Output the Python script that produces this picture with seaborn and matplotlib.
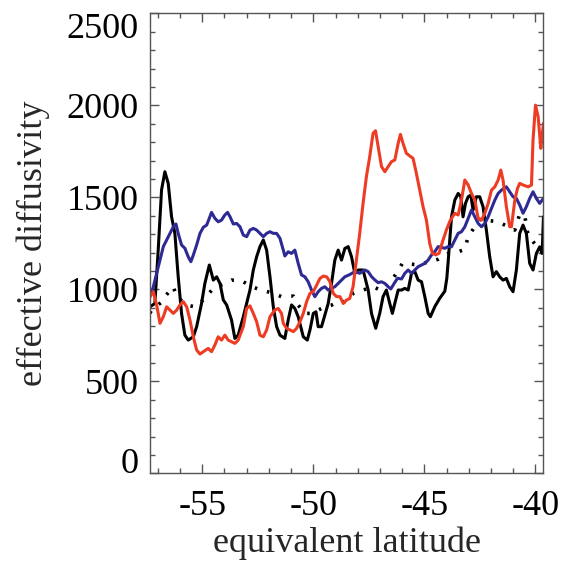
"""Effective diffusivity against equivalent latitude, four profiles."""

import matplotlib
matplotlib.use("Agg")
import matplotlib.pyplot as plt
import seaborn as sns
from matplotlib.ticker import MultipleLocator

# solid black profile
black_lat = [-57.35, -57.13, -56.98, -56.83, -56.68, -56.53, -56.38, -56.23, -56.08, -55.93,
             -55.78, -55.63, -55.40, -55.25, -55.03, -54.88, -54.68, -54.50, -54.35, -54.20,
             -54.05, -53.90, -53.68, -53.53, -53.38, -53.15, -52.85,
             -52.70, -52.55, -52.40, -52.25, -52.10, -51.95, -51.80, -51.65, -51.50, -51.28,
             -51.13, -50.98, -50.83, -50.68, -50.45, -50.27, -50.15, -50.00, -49.88, -49.78,
             -49.63, -49.48, -49.33, -49.18, -49.03, -48.88, -48.73, -48.58, -48.43,
             -48.28, -48.13, -47.98, -47.76, -47.53, -47.38, -47.19, -47.01, -46.86, -46.71,
             -46.56, -46.44, -46.33, -46.18, -46.03, -45.88, -45.73, -45.58, -45.43, -45.28,
             -45.13, -44.98, -44.83, -44.73, -44.53, -44.31, -44.08, -43.99, -43.93,
             -43.78, -43.63, -43.48, -43.36, -43.26, -43.15, -43.03, -42.91, -42.81, -42.66,
             -42.51, -42.36, -42.21, -42.06, -41.91, -41.76, -41.61, -41.46, -41.31, -41.16,
             -41.01, -40.86, -40.71, -40.56, -40.41, -40.26, -40.11, -39.96, -39.81, -39.70,
             -39.64]
black_val = [905, 923, 1214, 1540, 1639, 1576, 1395, 1304, 1068, 869,
             751, 724, 742, 797, 923, 1032, 1132, 1050, 1068, 1032,
             942, 915, 833, 733, 751, 851, 996,
             1105, 1177, 1232, 1268, 1213, 1068, 905, 797, 751, 733,
             833, 915, 896, 851, 742, 724, 779, 869, 878, 797,
             797, 860, 923, 1032, 1159, 1213, 1159, 1222, 1232,
             1177, 1087, 1105, 1105, 996, 869, 788, 869, 960, 996,
             924, 869, 924, 996, 996, 1005, 996, 1087, 1096, 1050,
             1041, 960, 869, 851, 906, 951, 990, 1060, 1150,
             1394, 1485, 1521, 1503, 1394, 1467, 1503, 1512, 1431, 1503,
             1503, 1449, 1322, 1177, 1068, 1096, 1068, 1050, 1059, 1014,
             987, 1105, 1304, 1349, 1304, 1141, 1105, 1195, 1231, 1195,
             1394]

# red profile
red_lat = [-57.35, -57.20, -57.05, -56.90, -56.75, -56.60, -56.45, -56.30, -56.15, -56.00,
           -55.85, -55.70, -55.55, -55.40, -55.25, -55.10, -54.95, -54.73, -54.58, -54.43,
           -54.28, -54.13, -53.98, -53.83, -53.68, -53.53, -53.38, -53.15, -53.00, -52.85,
           -52.70, -52.55, -52.40, -52.25, -52.10, -51.95, -51.73, -51.58, -51.43, -51.35,
           -51.20, -51.05, -50.90, -50.75, -50.60, -50.45, -50.30, -50.15, -50.00, -49.85,
           -49.70, -49.55, -49.40, -49.25, -49.10, -48.95, -48.80, -48.65, -48.50,
           -48.36, -48.21, -48.06, -47.91, -47.76, -47.61, -47.46, -47.31, -47.20, -47.08,
           -46.93, -46.78, -46.63, -46.48, -46.33, -46.18, -46.08, -45.96, -45.81, -45.66,
           -45.51, -45.36, -45.21, -45.06, -44.91, -44.76, -44.64, -44.49, -44.34, -44.16,
           -44.01, -43.86,
           -43.78, -43.63, -43.48, -43.33, -43.18, -43.03, -42.88, -42.73, -42.58, -42.43,
           -42.28, -42.13, -41.98, -41.83, -41.68, -41.56, -41.46, -41.31, -41.16, -41.08,
           -40.93, -40.81, -40.71, -40.56, -40.33, -40.18, -40.11, -40.00, -39.88, -39.76,
           -39.69, -39.64]
red_val = [960, 987, 915, 815, 851, 905, 887, 869, 887, 915,
           933, 905, 833, 742, 670, 648, 661, 679, 661, 697,
           742, 724, 751, 724, 715, 706, 724, 797, 896, 910,
           869, 824, 751, 742, 779, 851, 887, 896, 869, 815,
           788, 779, 770, 788, 824, 869, 933, 978, 987, 1023,
           1059, 1072, 1068, 1041, 978, 960, 960, 923, 942,
           950, 1014, 1159, 1304, 1467, 1612, 1721, 1848, 1862, 1775,
           1667, 1639, 1667, 1694, 1703, 1793, 1842, 1793, 1739, 1725,
           1712, 1630, 1540, 1449, 1377, 1250, 1196, 1187, 1196, 1268,
           1322, 1368,
           1385, 1413, 1404, 1485, 1594, 1567, 1521, 1485, 1385, 1376,
           1413, 1467, 1539, 1557, 1594, 1648, 1594, 1449, 1340, 1340,
           1485, 1548, 1576, 1567, 1557, 1567, 1811, 2001, 1938, 1766,
           1847, 1902]

# blue profile
blue_lat = [-57.35, -57.20, -57.05, -56.90, -56.75, -56.60, -56.45, -56.30, -56.18, -56.08,
            -55.93, -55.78, -55.63, -55.51, -55.40, -55.25, -55.10, -54.95, -54.80, -54.68,
            -54.58, -54.43, -54.28, -54.13, -53.98, -53.86, -53.75, -53.60, -53.45, -53.30,
            -53.15, -53.00, -52.85,
            -52.70, -52.55, -52.40, -52.25, -52.10, -51.95, -51.80, -51.65, -51.50, -51.35,
            -51.28, -51.13, -50.98, -50.83, -50.68, -50.53, -50.38, -50.23, -50.08, -49.93,
            -49.78, -49.63, -49.48, -49.33, -49.18, -49.03, -48.88, -48.73, -48.58,
            -48.36, -48.13, -47.91, -47.68, -47.53, -47.38, -47.23, -47.08, -46.93, -46.78,
            -46.63, -46.51, -46.36, -46.21, -46.03, -45.88, -45.73, -45.58, -45.43, -45.28,
            -45.13, -44.98, -44.83, -44.68, -44.53, -44.38, -44.23, -44.08, -43.93,
            -43.78, -43.63, -43.48, -43.33, -43.18, -43.03, -42.88, -42.73, -42.58, -42.43,
            -42.28, -42.13, -41.98, -41.83, -41.68, -41.53, -41.31, -41.16, -41.01, -40.86,
            -40.71, -40.56, -40.41, -40.26, -40.11, -39.96, -39.81, -39.64]
blue_val = [960, 1014, 1087, 1159, 1232, 1268, 1304, 1340, 1355, 1304,
            1241, 1223, 1177, 1150, 1186, 1241, 1304, 1337, 1349, 1386,
            1418, 1386, 1367, 1376, 1404, 1418, 1395, 1355, 1358, 1340,
            1295, 1286, 1322,
            1331, 1322, 1304, 1286, 1304, 1313, 1304, 1304, 1277, 1213,
            1181, 1204, 1195, 1213, 1141, 1078, 1068, 1041, 996, 960,
            987, 1005, 1014, 996, 1005, 1014, 1032, 1050, 1068,
            1080, 1096, 1087, 1105, 1096, 1069, 1051, 1036, 1041, 1032,
            1014, 1002, 1032, 1060, 1056, 1087, 1105, 1087, 1105, 1123,
            1132, 1141, 1159, 1187, 1205, 1232, 1228, 1223, 1232,
            1231, 1268, 1304, 1313, 1340, 1385, 1431, 1394, 1358, 1340,
            1358, 1394, 1440, 1485, 1521, 1539, 1557, 1530, 1503, 1494,
            1458, 1413, 1449, 1494, 1530, 1494, 1467, 1494]

# dotted black profile
dot_lat = [-57.35, -57.28, -56.83, -56.68, -56.30, -56.15, -55.70, -55.33, -54.95, -54.50,
           -53.98, -53.68, -53.23, -52.78, -52.33, -51.88, -51.43, -50.90, -50.68, -50.38,
           -50.08, -49.48, -49.18, -48.88, -48.58, -48.20, -47.76, -47.31, -46.93, -46.56,
           -46.26, -45.99, -45.63, -45.21, -44.83, -44.38, -43.93, -43.48, -43.18, -43.03,
           -42.51, -41.68, -40.93, -40.71, -40.48, -40.33, -39.73, -39.64]
dot_val = [870, 887, 930, 960, 1014, 960, 914, 905, 942, 1005,
           1032, 1050, 1047, 1014, 996, 981, 960, 963, 914, 869,
           869, 905, 914, 933, 933, 978, 996, 1014, 993, 1032,
           1087, 1141, 1137, 1132, 1150, 1163, 1195, 1204, 1217, 1286,
           1380, 1367, 1322, 1409, 1398, 1291, 1204, 1215]

sns.set_style("ticks")
plt.rcParams['font.family'] = ['Liberation Serif', 'DejaVu Serif']
plt.rcParams['axes.unicode_minus'] = False

fig = plt.figure(figsize=(5.66, 5.64), dpi=100)
ax = fig.add_axes([0.265, 0.1608, 0.6952, 0.8156])

line_kw = dict(sort=False, estimator=None, ax=ax)
sns.lineplot(x=black_lat, y=black_val, color='black', linewidth=2.2, **line_kw)
sns.lineplot(x=dot_lat, y=dot_val, color='black', linewidth=2.6,
             linestyle=(0, (0.7, 2.8)), **line_kw)
sns.lineplot(x=blue_lat, y=blue_val, color='#2e2a94', linewidth=2.2, **line_kw)
sns.lineplot(x=red_lat, y=red_val, color='#ee3b24', linewidth=2.2, **line_kw)

ax.set_xlim(-57.35, -39.64)
ax.set_ylim(0, 2500)
ax.xaxis.set_major_locator(MultipleLocator(5))
ax.xaxis.set_minor_locator(MultipleLocator(1))
ax.yaxis.set_major_locator(MultipleLocator(500))
ax.yaxis.set_minor_locator(MultipleLocator(100))

axis_grey = '#555555'
for spine in ax.spines.values():
    spine.set_color(axis_grey)
    spine.set_linewidth(1.0)

ax.tick_params(which='both', direction='in', top=True, right=True,
               color=axis_grey, width=1.0, labelcolor='black')
ax.tick_params(which='major', length=6.5, labelsize=26)
ax.tick_params(axis='x', which='major', pad=12)
ax.tick_params(axis='y', which='major', pad=8)
ax.tick_params(which='minor', length=3.6)

# keep the end labels of the y axis inside the frame
fig.canvas.draw()
for lab in ax.get_yticklabels():
    if lab.get_text() == '2500':
        lab.set_va('top')
    elif lab.get_text() == '0':
        lab.set_va('baseline')

ax.set_xlabel('equivalent latitude', fontsize=26, va='baseline')
ax.set_ylabel('effective diffusivity', fontsize=26)
ax.xaxis.set_label_coords(0.5, -0.172)
ax.yaxis.set_label_coords(-0.255, 0.5)

fig.savefig('out.png', dpi=100)
plt.close(fig)
